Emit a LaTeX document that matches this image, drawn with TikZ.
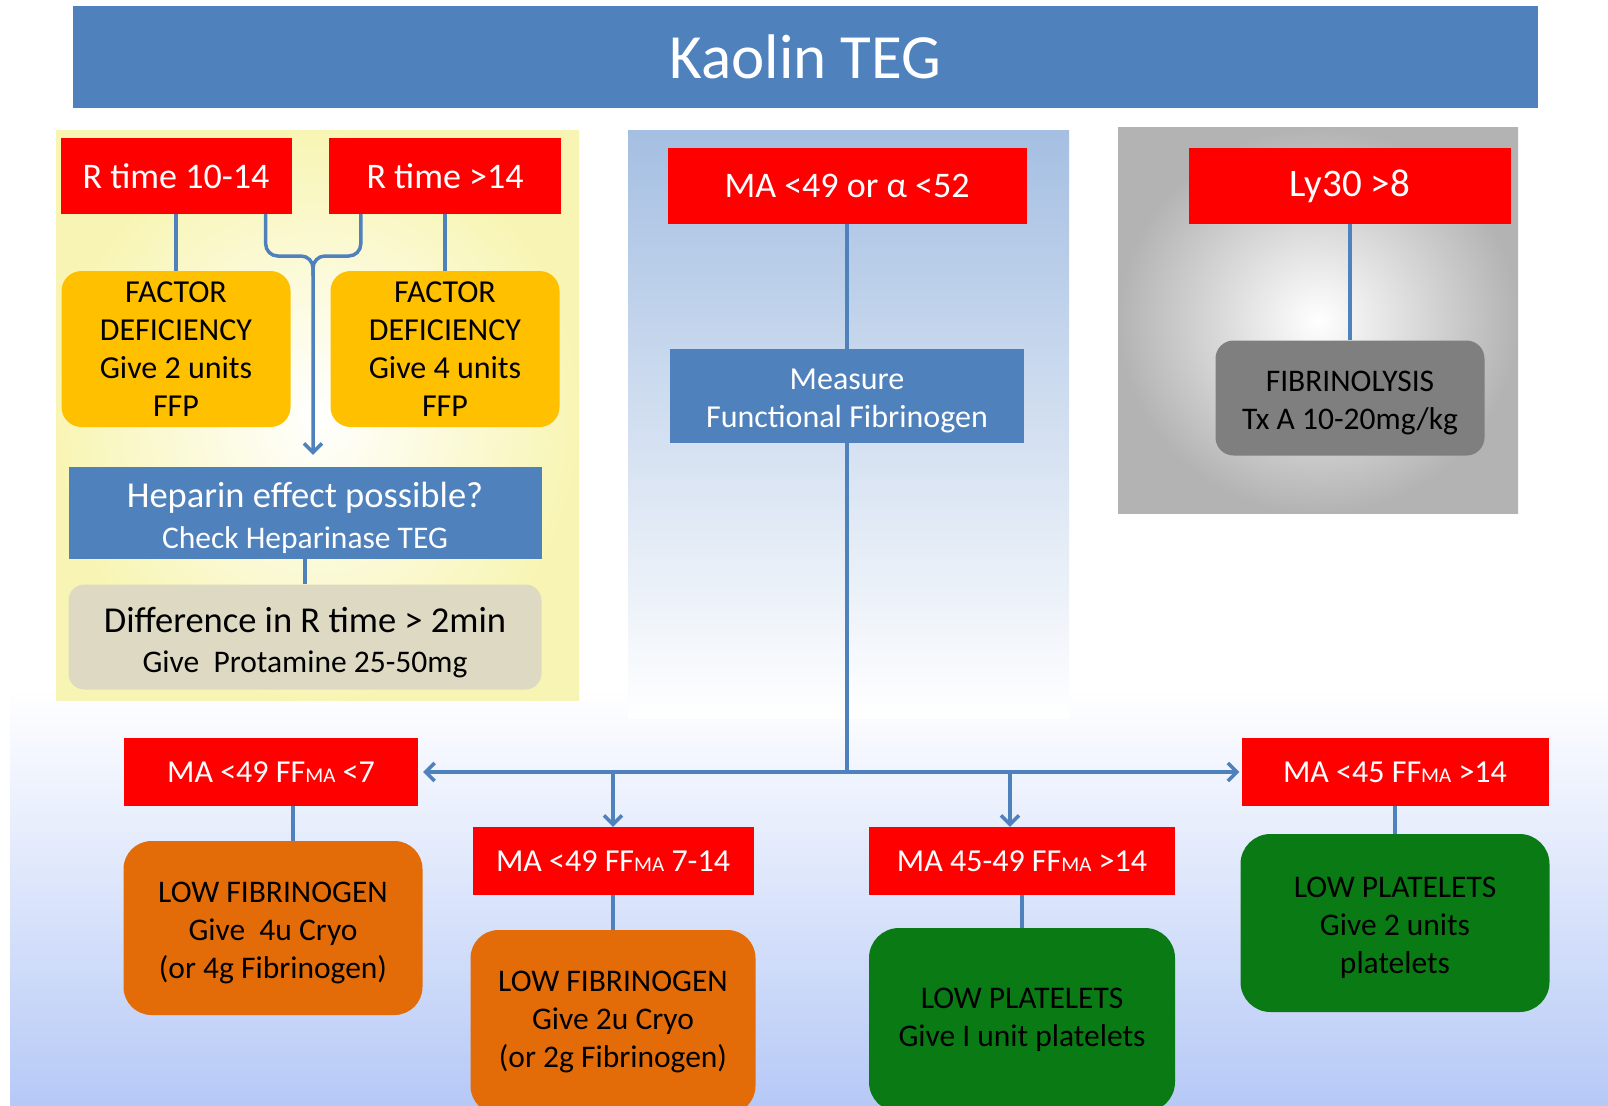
\documentclass[tikz,border=0pt]{standalone}
\usepackage{fontspec}
\setmainfont{Carlito}
\usetikzlibrary{arrows.meta}
\definecolor{tegblue}{HTML}{4F81BD}
\definecolor{tegred}{HTML}{FF0000}
\definecolor{tegamber}{HTML}{FFC000}
\definecolor{tegtan}{HTML}{DDD9C3}
\definecolor{teggray}{HTML}{7F7F7F}
\definecolor{tegorange}{HTML}{E36C09}
\definecolor{teggreen}{HTML}{0A7A14}
\definecolor{panelyellow}{HTML}{F8F5B4}
\definecolor{panelblue}{HTML}{A5BFE2}
\definecolor{panelgray}{HTML}{B3B3B3}
\definecolor{bandblue}{HTML}{B6C9F6}
\newcommand\fsz[2]{\fontsize{#1pt}{#2pt}\selectfont}
\newcommand\ffma{FF{\fontsize{21pt}{21pt}\selectfont MA}}
\newcommand\lift{\rule{0pt}{0.97em}}

\begin{document}
\begin{tikzpicture}[x=1pt,y=-1pt,>={Straight Barb[length=9pt,width=18pt]}]

  \tikzstyle{every node}=[inner sep=0pt,align=center]
  \tikzstyle{link}=[draw=tegblue,line width=3.5pt]
  \tikzstyle{test}=[fill=tegred,text=white,minimum height=76pt,font=\fsz{36}{40}]
  \tikzstyle{cut}=[fill=tegred,text=white,minimum height=68pt,font=\fsz{32}{36}]
  \tikzstyle{ffp}=[fill=tegamber,rounded corners=20pt,minimum width=229pt,minimum height=156pt,font=\fsz{32}{38}]
  \tikzstyle{info}=[fill=tegblue,text=white,font=\fsz{31.5}{41}]
  \tikzstyle{tan}=[fill=tegtan,rounded corners=16pt,minimum width=473pt,minimum height=105pt,font=\fsz{31.5}{40}]
  \tikzstyle{lysis}=[fill=teggray,rounded corners=18pt,minimum width=269pt,minimum height=115pt,font=\fsz{31.5}{38}]
  \tikzstyle{fib}=[fill=tegorange,rounded corners=28pt,font=\fsz{31.5}{38}]
  \tikzstyle{plt}=[fill=teggreen,rounded corners=30pt,font=\fsz{31.5}{38}]

  \useasboundingbox (0,0) rectangle (1608,1105);
  \fill[white] (0,0) rectangle (1608,1105);

  % backgrounds
  \shade[top color=white,bottom color=bandblue] (10,690) rectangle (1608,1105);
  \shade[inner color=white,outer color=panelyellow] (56,131) rectangle (579,700);
  \shade[top color=panelblue,bottom color=white] (628,131) rectangle (1069,718);
  \shade[inner color=white,outer color=panelgray] (1118,128) rectangle (1518,513);

  \node[fill=tegblue,text=white,minimum width=1465pt,minimum height=102pt,font=\fsz{63}{70}] (TTL) at (805.5,57) {Kaolin TEG};

  % R time
  \node[test,minimum width=231pt] (RTL) at (176,176) {R time 10-14};
  \node[test,minimum width=232pt] (RTH) at (445,176) {R time >14};
  \node[ffp] (FDL) at (176,349) {FACTOR\\DEFICIENCY\\Give 2 units\\FFP};
  \node[ffp] (FDH) at (445,349) {FACTOR\\DEFICIENCY\\Give 4 units\\FFP};
  \node[info,minimum width=473pt,minimum height=92pt] (HEP) at (305,513)
       {{\fsz{36.5}{41}\lift Heparin effect possible?}\\Check Heparinase TEG};
  \node[tan] (DIF) at (305,637) {{\fsz{36.5}{40}\lift Difference in R time > 2min}\\Give\ \ Protamine 25-50mg};

  % MA / Ly30
  \node[test,minimum width=359pt] (MAA) at (847,186) {MA <49 or α <52};
  \node[info,minimum width=354pt,minimum height=94pt,font=\fsz{32}{38}] (MFF) at (847,396) {\lift Measure\\Functional Fibrinogen};
  \node[test,minimum width=322pt,font=\fsz{39}{40}] (LY) at (1350,186) {Ly30 >8};
  \node[lysis] (FIB) at (1350,398) {\lift FIBRINOLYSIS\\Tx A 10-20mg/kg};

  % bottom row
  \node[cut,minimum width=294pt] (MA7)  at (271,772)  {MA <49 \ffma{} <7};
  \node[cut,minimum width=281pt] (MA14) at (613,861)  {MA <49 \ffma{} 7-14};
  \node[cut,minimum width=306pt] (MAP)  at (1022,861) {MA 45-49 \ffma{} >14};
  \node[cut,minimum width=307pt] (MAH)  at (1395,772) {MA <45 \ffma{} >14};
  \node[fib,minimum width=299pt,minimum height=174pt] (LF4) at (273,928)  {\lift LOW FIBRINOGEN\\Give\ \ 4u Cryo\\(or 4g Fibrinogen)};
  \node[fib,minimum width=285pt,minimum height=184pt] (LF2) at (613,1022) {LOW FIBRINOGEN\\Give 2u Cryo\\(or 2g Fibrinogen)};
  \node[plt,minimum width=306pt,minimum height=184pt] (LP1) at (1022,1020) {LOW PLATELETS\\Give I unit platelets};
  \node[plt,minimum width=309pt,minimum height=178pt] (LP2) at (1395,923)  {\lift LOW PLATELETS\\Give 2 units\\platelets};

  \path[link]
  (RTL)  edge (FDL)
  (RTH)  edge (FDH)
  (HEP)  edge (DIF)
  (MAA)  edge (MFF)
  (LY)   edge (FIB)
  (MA14) edge (LF2)
  (MAP)  edge (LP1)
  (MAH)  edge (LP2)
  ;
  \draw[link] ([xshift=22pt]MA7.south) -- ([xshift=22pt]MA7.south |- LF4.north);

  % fork into heparin check
  \coordinate (FORK) at (313,256);
  \draw[link,rounded corners=12pt] ([xshift=-26pt]RTL.south east) |- (FORK) -- ++(0,20);
  \draw[link,->,rounded corners=12pt] ([xshift=32pt]RTH.south west) |- (FORK) -- ([yshift=12pt]HEP.north -| FORK);

  % bus
  \coordinate (BUS) at (847,772);
  \draw[link] (MFF) -- (BUS);
  \draw[link,->,shorten >=5pt] (BUS) -- (MA7);
  \draw[link,->,shorten >=2pt] (BUS) -- (MAH);
  \draw[link,->] (MA14 |- BUS) -- (MA14);
  \draw[link,->] ([xshift=-12pt]MAP.north |- BUS) -- ([xshift=-12pt]MAP.north);
\end{tikzpicture}
\end{document}
